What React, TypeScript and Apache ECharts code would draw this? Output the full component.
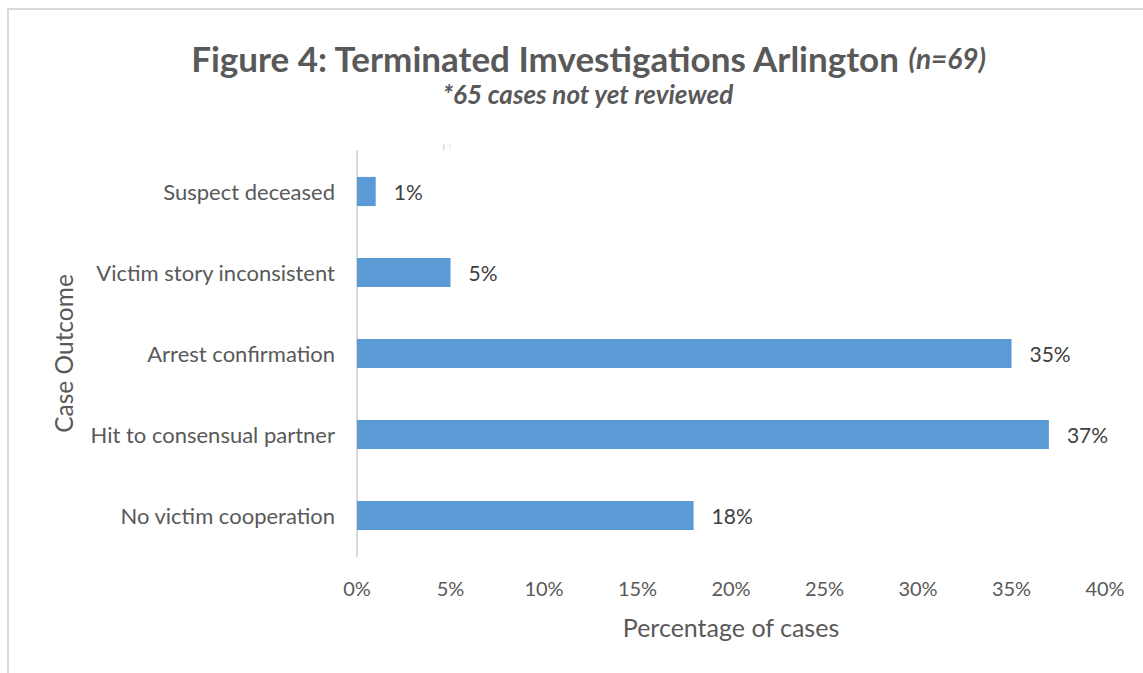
import React, { useEffect, useRef } from "react";
import * as echarts from "echarts";

const categories = [
  "No victim cooperation",
  "Hit to consensual partner",
  "Arrest confirmation",
  "Victim story inconsistent",
  "Suspect deceased",
];
const values = [18, 37, 35, 5, 1];
const titleMain = "Figure 4: Terminated Imvestigations Arlington";
const titleN = "(n=69)";
const subtitle = "*65 cases not yet reviewed";
const xAxisName = "Percentage of cases";
const yAxisName = "Case Outcome";

const FONT = "Lato, 'Open Sans', sans-serif";

export default function App() {
  const ref = useRef<HTMLDivElement>(null);
  useEffect(() => {
    if (!ref.current) return;
    const chart = echarts.init(ref.current, null, { renderer: "svg" });
    chart.setOption({
      animation: false,
      backgroundColor: "#ffffff",
      textStyle: { fontFamily: FONT },
      title: {
        text: `{m|${titleMain} }{n|${titleN}}`,
        subtext: subtitle,
        left: 583,
        textAlign: "center",
        top: 35,
        itemGap: 6,
        textStyle: {
          rich: {
            m: { fontFamily: FONT, fontSize: 35, fontWeight: "bold", color: "#595959" },
            n: { fontFamily: FONT, fontSize: 28, fontWeight: "bold", fontStyle: "italic", color: "#595959" },
          },
        },
        subtextStyle: {
          fontFamily: FONT,
          fontSize: 26,
          fontWeight: "bold",
          fontStyle: "italic",
          color: "#595959",
        },
      },
      graphic: [
        {
          type: "rect",
          shape: { x: 8, y: 9, width: 1300, height: 800 },
          style: { fill: "none", stroke: "#d9d9d9", lineWidth: 2 },
          silent: true,
        },
        {
          type: "rect",
          shape: { x: 443, y: 144, width: 1.5, height: 6 },
          style: { fill: "#dcdcdc" },
          silent: true,
        },
        {
          type: "rect",
          shape: { x: 449.5, y: 144, width: 1, height: 6 },
          style: { fill: "#e6e6e6" },
          silent: true,
        },
      ],
      grid: { left: 357, right: 38, top: 151, bottom: 117, containLabel: false },
      xAxis: {
        type: "value",
        min: 0,
        max: 40,
        interval: 5,
        axisLine: { show: false },
        axisTick: { show: false },
        splitLine: { show: false },
        axisLabel: {
          formatter: "{value}%",
          fontSize: 20,
          color: "#595959",
          fontFamily: FONT,
          margin: 22,
        },
        name: xAxisName,
        nameLocation: "middle",
        nameGap: 58,
        nameTextStyle: { fontSize: 25, color: "#595959", fontFamily: FONT },
      },
      yAxis: {
        type: "category",
        data: categories,
        axisLine: { show: true, lineStyle: { color: "#d9d9d9", width: 2 } },
        axisTick: { show: false },
        axisLabel: { fontSize: 22, color: "#595959", fontFamily: FONT, margin: 22 },
        name: yAxisName,
        nameLocation: "middle",
        nameGap: 281,
        nameRotate: 90,
        nameTextStyle: { fontSize: 24.5, color: "#595959", fontFamily: FONT },
      },
      series: [
        {
          type: "bar",
          data: values,
          barWidth: "36%",
          itemStyle: { color: "#5b9bd5" },
          label: {
            show: true,
            position: "right",
            distance: 18,
            formatter: "{c}%",
            fontSize: 21,
            color: "#404040",
            fontFamily: FONT,
          },
        },
      ],
    });
    return () => chart.dispose();
  }, []);
  return (
    <div
      ref={ref}
      style={{ position: "fixed", left: 0, top: 0, width: 1143, height: 673 }}
    />
  );
}
